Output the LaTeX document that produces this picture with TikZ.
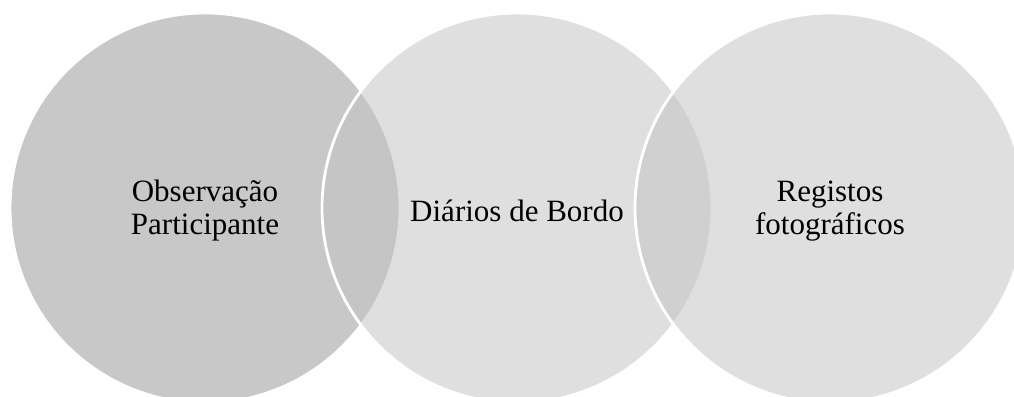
\documentclass[tikz,border=0pt]{standalone}
\usepackage{fontspec}
\setmainfont{Liberation Serif}
\definecolor{circA}{RGB}{200,200,200}
\definecolor{circB}{RGB}{195,195,195}
\tikzset{
  venn/.style={circle, minimum size=390pt, inner sep=0pt, draw=white, line width=2.8pt},
  vennsolid/.style={venn, fill=circA},
  venntrans/.style={venn, fill=circB, fill opacity=0.53, draw opacity=1},
  lbl/.style={align=center, font=\fontsize{31}{33}\selectfont, text=black, inner sep=0pt}
}
\begin{document}
\begin{tikzpicture}[x=1pt,y=-1pt]
\useasboundingbox (0,0) rectangle (1014,396);
\clip (0,0) rectangle (1014,396);
\node[vennsolid] (c1) at (205,208) {};
\node[venntrans] (c2) at (517,208) {};
\node[venntrans] (c3) at (830,208) {};
\node[lbl] (t1) at (c1.center) [yshift=-3pt] {Observação\\Participante};
\node[lbl] (t2) at (c2.center) [yshift=-3pt] {Diários de Bordo};
\node[lbl] (t3) at (c3.center) [yshift=-3pt] {Registos\\fotográficos};
\end{tikzpicture}
\end{document}
